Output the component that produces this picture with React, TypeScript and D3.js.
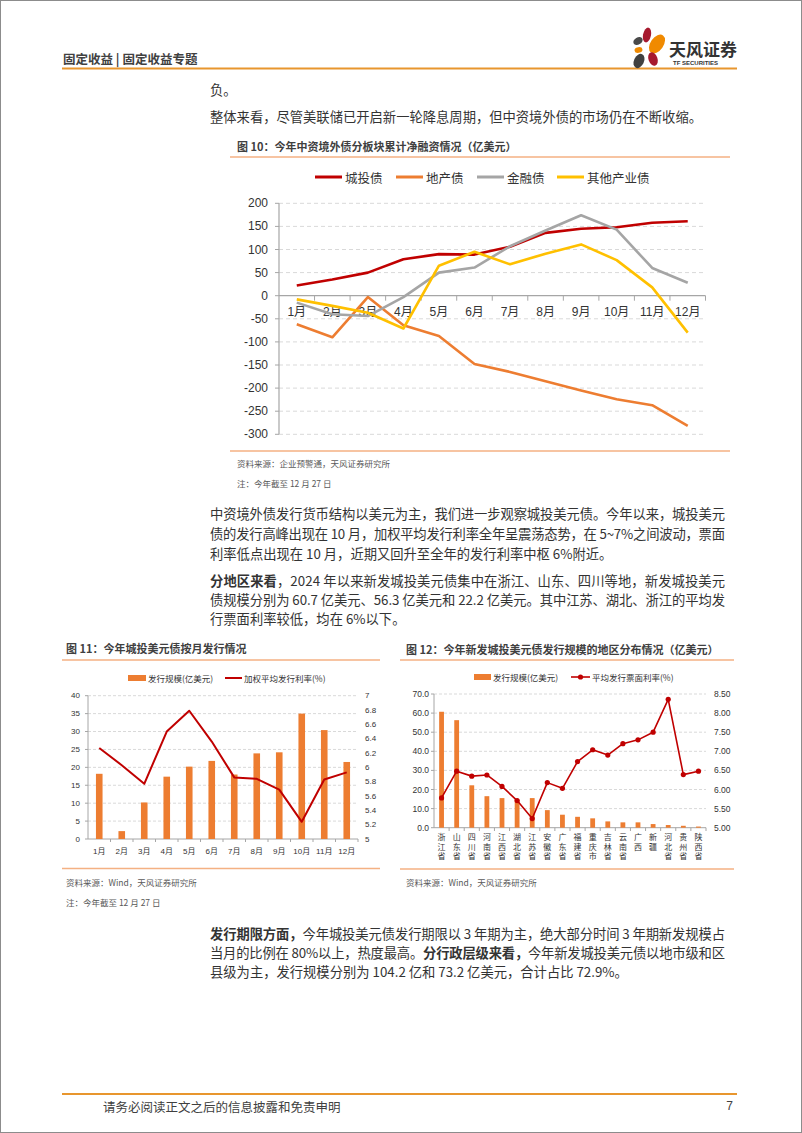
import React from 'react';
import * as d3 from 'd3';

// ---------- Data ----------
const months = ['1月', '2月', '3月', '4月', '5月', '6月', '7月', '8月', '9月', '10月', '11月', '12月'];

// 图10 cumulative net financing (亿美元)
const seriesNames = ['城投债', '地产债', '金融债', '其他产业债'];
const chengtouNet = [22, 35, 50, 79, 90, 89, 106, 136, 145, 148, 158, 161];
const dichanNet = [-62, -90, -3, -64, -87, -148, -165, -185, -205, -224, -237, -282];
const jinrongNet = [-15, -40, -44, -3, 50, 61, 107, 141, 174, 143, 60, 28];
const qitaNet = [-8, -22, -37, -71, 65, 95, 68, 91, 111, 77, 18, -80];

// 图11 monthly issuance
const monthlyIssuance = [18.2, 2.2, 10.2, 17.4, 20.2, 21.8, 18.0, 23.9, 24.2, 35.0, 30.4, 21.5];
const monthlyRate = [6.27, 6.03, 5.77, 6.5, 6.79, 6.36, 5.86, 5.84, 5.69, 5.24, 5.83, 5.93];

// 图12 regional distribution
const provinces = ['浙江省', '山东省', '四川省', '河南省', '江西省', '湖北省', '江苏省', '安徽省', '广东省', '福建省', '重庆市', '吉林省', '云南省', '广西', '新疆', '河北省', '贵州省', '陕西省'];
const provinceIssuance = [60.7, 56.3, 22.2, 16.5, 15.5, 14.6, 15.5, 9.2, 6.8, 5.7, 4.9, 3.3, 2.8, 2.8, 1.9, 1.4, 1.0, 0.6];
const provinceCoupon = [5.78, 6.48, 6.35, 6.38, 6.08, 5.71, 5.24, 6.18, 6.03, 6.73, 7.04, 6.9, 7.2, 7.3, 7.5, 8.36, 6.39, 6.48];

// ---------- Styles ----------
const CJK = '"Noto Sans CJK SC", "Noto Sans", sans-serif';
const NUM = '"Liberation Sans", "Noto Sans CJK SC", sans-serif';
const TEXT = '#333333';
const ORANGE_LINE = '#E8962E';
const LIGHT_ORANGE = '#F4B183';
const GRID = '#D9D9D9';
const AXIS = '#A6A6A6';
const RED = '#C00000';
const BAR = '#ED7D31';

function Chart10() {
  const x = d3.scaleBand<string>().domain(months).range([279, 705.5]);
  const y = d3.scaleLinear().domain([-300, 200]).range([434.3, 203.3]);
  const ticks = d3.range(-300, 201, 50);
  const cx = (i: number) => (x(months[i]) as number) + x.bandwidth() / 2;
  const line = d3.line<number>().x((_, i) => cx(i)).y((d) => y(d));
  const series = [
    { name: seriesNames[0], data: chengtouNet, color: '#C00000', lx: 315 },
    { name: seriesNames[1], data: dichanNet, color: '#ED7D31', lx: 396 },
    { name: seriesNames[2], data: jinrongNet, color: '#A5A5A5', lx: 477 },
    { name: seriesNames[3], data: qitaNet, color: '#FFC000', lx: 557 },
  ];
  return (
    <g>
      <text x={237} y={146} fontFamily={CJK} fontSize={11} fontWeight="bold" fill="#404040" dominantBaseline="central">图 10：今年中资境外债分板块累计净融资情况（亿美元）</text>
      <line x1={230} x2={730} y1={157} y2={157} stroke={LIGHT_ORANGE} strokeWidth={1.5} />
      {series.map((s) => (
        <g key={s.name}>
          <line x1={s.lx} x2={s.lx + 27} y1={177} y2={177} stroke={s.color} strokeWidth={3} />
          <text x={s.lx + 30} y={177} fontFamily={CJK} fontSize={12.5} fill={TEXT} dominantBaseline="central">{s.name}</text>
        </g>
      ))}
      {ticks.map((t) => (
        <g key={t}>
          {t !== 0 && <line x1={279} x2={705.5} y1={y(t)} y2={y(t)} stroke={GRID} strokeDasharray="4 3" />}
          <line x1={275} x2={279} y1={y(t)} y2={y(t)} stroke={AXIS} />
          <text x={268} y={y(t)} textAnchor="end" dominantBaseline="central" fontFamily={NUM} fontSize={12} fill={TEXT}>{t}</text>
        </g>
      ))}
      <line x1={279} x2={279} y1={y(200)} y2={y(-300)} stroke={AXIS} strokeWidth={1.2} />
      <line x1={279} x2={705.5} y1={y(0)} y2={y(0)} stroke={AXIS} strokeWidth={1.2} />
      {months.map((m, i) => (
        <g key={m}>
          <line x1={(x(m) as number) + x.bandwidth()} x2={(x(m) as number) + x.bandwidth()} y1={y(0)} y2={y(0) + 5} stroke={AXIS} />
          <text x={cx(i)} y={y(0) + 16} textAnchor="middle" dominantBaseline="central" fontFamily={NUM} fontSize={12} fill={TEXT}>{m}</text>
        </g>
      ))}
      {series.map((s) => (
        <path key={s.name} d={line(s.data) || ''} fill="none" stroke={s.color} strokeWidth={2.6} strokeLinejoin="round" />
      ))}
      <line x1={230} x2={730} y1={451} y2={451} stroke={LIGHT_ORANGE} strokeWidth={1.5} />
      <text x={237} y={463} fontFamily={CJK} fontSize={8.5} fill="#595959" dominantBaseline="central">资料来源：企业预警通，天风证券研究所</text>
      <text x={237} y={483} fontFamily={CJK} fontSize={8.5} fill="#595959" dominantBaseline="central">注：今年截至 12 月 27 日</text>
    </g>
  );
}

function Chart11() {
  const x = d3.scaleBand<string>().domain(months).range([88, 358]);
  const yL = d3.scaleLinear().domain([0, 40]).range([839, 695.7]);
  const yR = d3.scaleLinear().domain([5, 7]).range([839, 695.7]);
  const cx = (i: number) => (x(months[i]) as number) + x.bandwidth() / 2;
  const line = d3.line<number>().x((_, i) => cx(i)).y((d) => yR(d));
  const lt = d3.range(0, 41, 5);
  const rt = d3.range(0, 11).map((i) => 5 + i * 0.2);
  return (
    <g>
      <text x={66} y={648} fontFamily={CJK} fontSize={11} fontWeight="bold" fill="#404040" dominantBaseline="central">图 11：今年城投美元债按月发行情况</text>
      <line x1={62} x2={380} y1={660} y2={660} stroke={LIGHT_ORANGE} strokeWidth={1.5} />
      <rect x={128} y={675} width={18} height={6} fill={BAR} />
      <text x={148} y={678} fontFamily={CJK} fontSize={8.5} fill={TEXT} dominantBaseline="central">发行规模(亿美元)</text>
      <line x1={225} x2={242} y1={678} y2={678} stroke={RED} strokeWidth={2} />
      <text x={244} y={678} fontFamily={CJK} fontSize={8.5} fill={TEXT} dominantBaseline="central">加权平均发行利率(%)</text>
      {lt.map((t) => (
        <g key={t}>
          {t !== 0 && <line x1={88} x2={358} y1={yL(t)} y2={yL(t)} stroke={GRID} strokeDasharray="3 2" />}
          <line x1={85} x2={88} y1={yL(t)} y2={yL(t)} stroke={AXIS} />
          <text x={80} y={yL(t)} textAnchor="end" dominantBaseline="central" fontFamily={NUM} fontSize={8} fill={TEXT}>{t}</text>
        </g>
      ))}
      {rt.map((t) => (
        <text key={t} x={365} y={yR(t)} dominantBaseline="central" fontFamily={NUM} fontSize={8} fill={TEXT}>{String(+t.toFixed(1))}</text>
      ))}
      <line x1={88} x2={88} y1={695.7} y2={839} stroke={AXIS} />
      <line x1={88} x2={358} y1={839} y2={839} stroke={AXIS} />
      {months.map((m, i) => (
        <g key={m}>
          <line x1={(x(m) as number) + x.bandwidth()} x2={(x(m) as number) + x.bandwidth()} y1={839} y2={842} stroke={AXIS} />
          <rect x={cx(i) - 3.3} width={6.6} y={yL(monthlyIssuance[i])} height={839 - yL(monthlyIssuance[i])} fill={BAR} />
          <text x={cx(i)} y={851} textAnchor="middle" dominantBaseline="central" fontFamily={NUM} fontSize={8} fill={TEXT}>{m}</text>
        </g>
      ))}
      <path d={line(monthlyRate) || ''} fill="none" stroke={RED} strokeWidth={2} strokeLinejoin="round" />
      <line x1={62} x2={380} y1={868.5} y2={868.5} stroke={LIGHT_ORANGE} strokeWidth={1.5} />
      <text x={66} y={881.5} fontFamily={CJK} fontSize={8.5} fill="#595959" dominantBaseline="central">资料来源：Wind，天风证券研究所</text>
      <text x={66} y={901.5} fontFamily={CJK} fontSize={8.5} fill="#595959" dominantBaseline="central">注：今年截至 12 月 27 日</text>
    </g>
  );
}

function Chart12() {
  const x = d3.scaleBand<string>().domain(provinces).range([434, 706]);
  const yL = d3.scaleLinear().domain([0, 70]).range([827.7, 694]);
  const yR = d3.scaleLinear().domain([5, 8.5]).range([827.7, 694]);
  const cx = (i: number) => (x(provinces[i]) as number) + x.bandwidth() / 2;
  const line = d3.line<number>().x((_, i) => cx(i)).y((d) => yR(d));
  const lt = d3.range(0, 71, 10);
  const rt = d3.range(0, 8).map((i) => 5 + i * 0.5);
  return (
    <g>
      <text x={406} y={649} fontFamily={CJK} fontSize={11} fontWeight="bold" fill="#404040" dominantBaseline="central">图 12：今年新发城投美元债发行规模的地区分布情况（亿美元）</text>
      <line x1={400} x2={734} y1={660} y2={660} stroke={LIGHT_ORANGE} strokeWidth={1.5} />
      <rect x={474} y={674} width={17} height={6} fill={BAR} />
      <text x={493} y={677} fontFamily={CJK} fontSize={8.5} fill={TEXT} dominantBaseline="central">发行规模(亿美元)</text>
      <line x1={571} x2={590} y1={677} y2={677} stroke={RED} strokeWidth={1.6} />
      <circle cx={580.5} cy={677} r={2.6} fill={RED} />
      <text x={592} y={677} fontFamily={CJK} fontSize={8.5} fill={TEXT} dominantBaseline="central">平均发行票面利率(%)</text>
      {lt.map((t) => (
        <g key={t}>
          {t !== 0 && <line x1={434} x2={706} y1={yL(t)} y2={yL(t)} stroke={GRID} strokeDasharray="3 2" />}
          <line x1={431} x2={434} y1={yL(t)} y2={yL(t)} stroke={AXIS} />
          <text x={429} y={yL(t)} textAnchor="end" dominantBaseline="central" fontFamily={NUM} fontSize={8.5} fill={TEXT}>{t.toFixed(1)}</text>
        </g>
      ))}
      {rt.map((t) => (
        <text key={t} x={714} y={yR(t)} dominantBaseline="central" fontFamily={NUM} fontSize={8.5} fill={TEXT}>{t.toFixed(2)}</text>
      ))}
      <line x1={434} x2={434} y1={694} y2={827.7} stroke={AXIS} />
      <line x1={434} x2={706} y1={827.7} y2={827.7} stroke={AXIS} />
      {provinces.map((p, i) => (
        <g key={p}>
          <line x1={(x(p) as number) + x.bandwidth()} x2={(x(p) as number) + x.bandwidth()} y1={827.7} y2={831} stroke={AXIS} />
          <rect x={cx(i) - 2.4} width={4.8} y={yL(provinceIssuance[i])} height={827.7 - yL(provinceIssuance[i])} fill={BAR} />
          <text x={cx(i)} y={833} fontFamily={CJK} fontSize={8} fill={TEXT} letterSpacing={1.5}
            style={{ writingMode: 'vertical-rl', textOrientation: 'upright' } as React.CSSProperties}>{p}</text>
        </g>
      ))}
      <path d={line(provinceCoupon) || ''} fill="none" stroke={RED} strokeWidth={1.6} strokeLinejoin="round" />
      {provinceCoupon.map((v, i) => (
        <circle key={i} cx={cx(i)} cy={yR(v)} r={2.6} fill={RED} />
      ))}
      <line x1={400} x2={734} y1={869} y2={869} stroke={LIGHT_ORANGE} strokeWidth={1.5} />
      <text x={406} y={881.5} fontFamily={CJK} fontSize={8.5} fill="#595959" dominantBaseline="central">资料来源：Wind，天风证券研究所</text>
    </g>
  );
}

function Body() {
  const fs = 13.3;
  const B = (s: string) => <tspan fontWeight="bold">{s}</tspan>;
  const common = { fontFamily: CJK, fontSize: fs, fill: TEXT, dominantBaseline: 'central' as const };
  return (
    <g>
      <text x={210} y={89} {...common}>负。</text>
      <text x={210} y={116} {...common}>整体来看，尽管美联储已开启新一轮降息周期，但中资境外债的市场仍在不断收缩。</text>

      <text x={210} y={513} {...common} textLength={515} lengthAdjust="spacing">中资境外债发行货币结构以美元为主，我们进一步观察城投美元债。今年以来，城投美元</text>
      <text x={210} y={533} {...common} textLength={515} lengthAdjust="spacing">债的发行高峰出现在 10 月，加权平均发行利率全年呈震荡态势，在 5~7%之间波动，票面</text>
      <text x={210} y={553} {...common}>利率低点出现在 10 月，近期又回升至全年的发行利率中枢 6%附近。</text>

      <text x={210} y={580} {...common} textLength={515} lengthAdjust="spacing">{B('分地区来看')}，2024 年以来新发城投美元债集中在浙江、山东、四川等地，新发城投美元</text>
      <text x={210} y={599} {...common} textLength={515} lengthAdjust="spacing">债规模分别为 60.7 亿美元、56.3 亿美元和 22.2 亿美元。其中江苏、湖北、浙江的平均发</text>
      <text x={210} y={618} {...common}>行票面利率较低，均在 6%以下。</text>

      <text x={210} y={933} {...common} textLength={515} lengthAdjust="spacing">{B('发行期限方面，')}今年城投美元债发行期限以 3 年期为主，绝大部分时间 3 年期新发规模占</text>
      <text x={210} y={952} {...common} textLength={515} lengthAdjust="spacing">当月的比例在 80%以上，热度最高。{B('分行政层级来看，')}今年新发城投美元债以地市级和区</text>
      <text x={210} y={971} {...common}>县级为主，发行规模分别为 104.2 亿和 73.2 亿美元，合计占比 72.9%。</text>
    </g>
  );
}

function Header() {
  return (
    <g>
      <text x={63} y={58} fontFamily={CJK} fontSize={12.5} fontWeight="bold" fill="#404040" dominantBaseline="central">固定收益 | 固定收益专题</text>
      <line x1={62} x2={737} y1={68.5} y2={68.5} stroke={ORANGE_LINE} strokeWidth={2} />
      {/* logo petals */}
      <ellipse cx={647} cy={35} rx={4} ry={7.5} fill="#A6192E" transform="rotate(12 647 35)" />
      <ellipse cx={657} cy={44} rx={6.5} ry={10.5} fill="#F08A00" transform="rotate(35 657 44)" />
      <ellipse cx={638} cy={41} rx={5} ry={3.5} fill="#4A4A4A" transform="rotate(-30 638 41)" />
      <ellipse cx={638.5} cy={50} rx={4} ry={2.8} fill="#F08A00" transform="rotate(-10 638.5 50)" />
      <ellipse cx={639} cy={61} rx={5} ry={7.5} fill="#404040" transform="rotate(25 639 61)" />
      <ellipse cx={653} cy={59} rx={4.5} ry={7} fill="#A6192E" transform="rotate(-20 653 59)" />
      <text x={669} y={48} fontFamily={CJK} fontSize={17} fontWeight="bold" fill="#333" dominantBaseline="central">天风证券</text>
      <text x={673} y={62.5} fontFamily={NUM} fontSize={6} fontWeight="bold" fill="#333" dominantBaseline="central">TF SECURITIES</text>
    </g>
  );
}

function Footer() {
  return (
    <g>
      <line x1={62} x2={737} y1={1094} y2={1094} stroke={ORANGE_LINE} strokeWidth={2} />
      <text x={103} y={1106} fontFamily={CJK} fontSize={12.5} fill="#404040" dominantBaseline="central">请务必阅读正文之后的信息披露和免责申明</text>
      <text x={733} y={1106} textAnchor="end" fontFamily={NUM} fontSize={12} fill="#404040" dominantBaseline="central">7</text>
    </g>
  );
}

export default function App() {
  return (
    <svg width={802} height={1133} viewBox="0 0 802 1133" style={{ position: 'absolute', left: 0, top: 0, background: '#fff' }}>
      <rect x={0} y={0} width={802} height={1133} fill="#fff" />
      <rect x={0.5} y={0.5} width={801} height={1132} fill="none" stroke="#8C8C8C" strokeWidth={1} />
      <Header />
      <Body />
      <Chart10 />
      <Chart11 />
      <Chart12 />
      <Footer />
    </svg>
  );
}
